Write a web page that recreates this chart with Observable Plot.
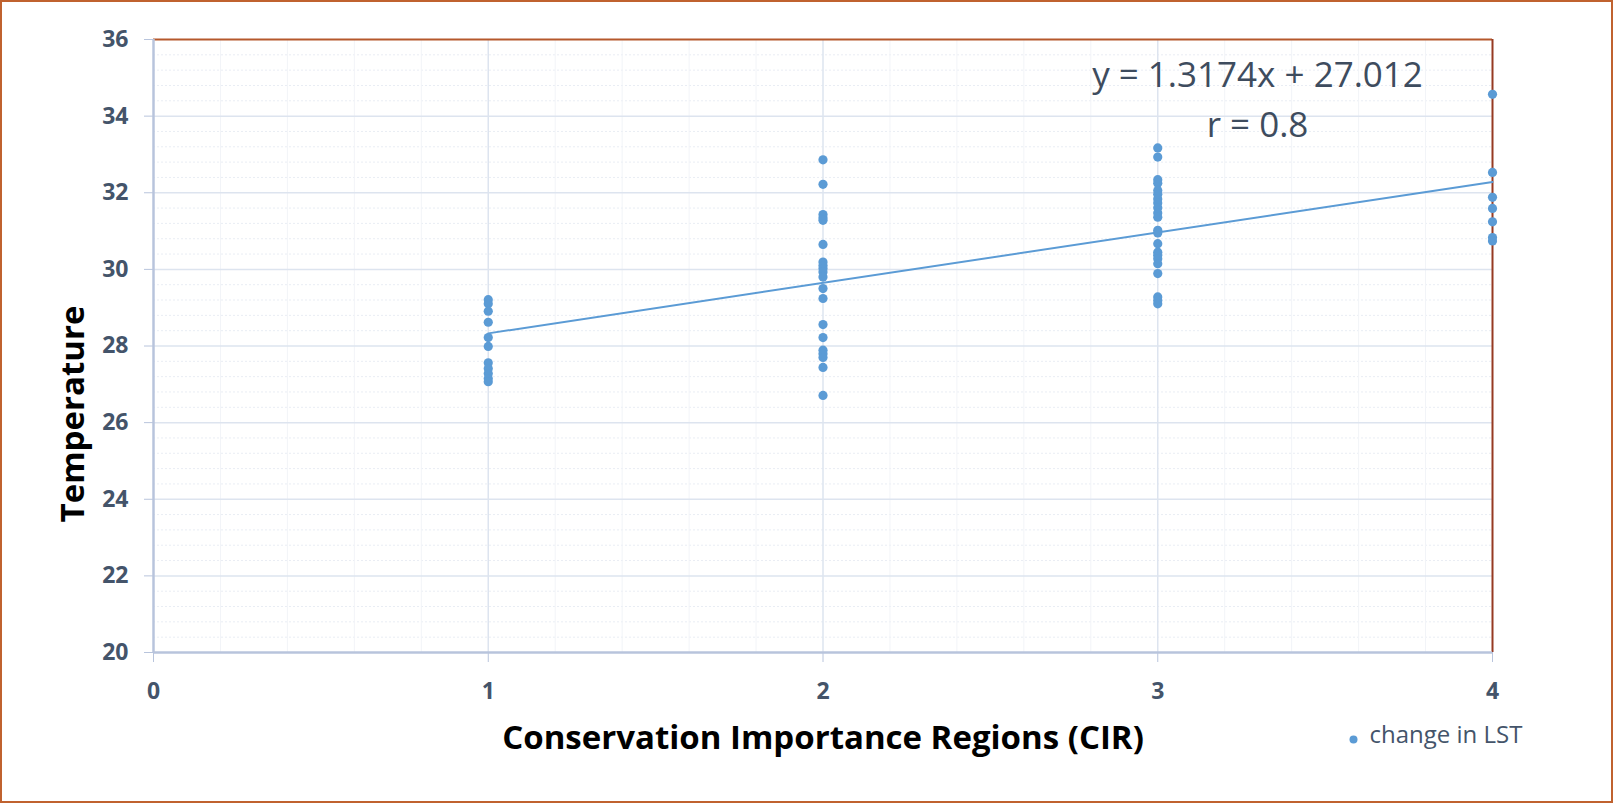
<!DOCTYPE html>
<html><head><meta charset="utf-8">
<script src="https://cdn.jsdelivr.net/npm/d3@7"></script>
<script src="https://cdn.jsdelivr.net/npm/@observablehq/plot@0.6"></script>
<style>
html,body{margin:0;padding:0;background:#fff;overflow:hidden}
#chart svg{display:block}
</style></head><body><div id="chart"></div>
<script>
// ---- data ----
const lstCIR1 = [29.21, 29.10, 28.91, 28.62, 28.22, 27.99, 27.56, 27.41, 27.28, 27.15, 27.07];
const lstCIR2 = [32.86, 32.22, 31.43, 31.35, 31.28, 30.65, 30.19, 30.10, 30.02, 29.93, 29.80, 29.50, 29.24, 28.56, 28.22, 27.89, 27.80, 27.70, 27.44, 26.71];
const lstCIR3 = [33.17, 32.93, 32.34, 32.25, 32.06, 31.96, 31.84, 31.73, 31.61, 31.47, 31.36, 31.02, 30.95, 30.67, 30.45, 30.37, 30.28, 30.15, 29.89, 29.28, 29.19, 29.10];
const lstCIR4 = [34.57, 32.53, 31.88, 31.59, 31.24, 30.83, 30.74];
const trendSlope = 1.3174;
const trendIntercept = 27.012;
const correlation = 0.8;
const xTicks = [0, 1, 2, 3, 4];
const yTicks = [20, 22, 24, 26, 28, 30, 32, 34, 36];
const seriesName = "change in LST";
const xTitle = "Conservation Importance Regions (CIR)";
const yTitle = "Temperature";

const groups = [[1, lstCIR1], [2, lstCIR2], [3, lstCIR3], [4, lstCIR4]];
const points = groups.flatMap(([cir, vals]) => vals.map(v => ({cir, lst: v})));
const xExt = d3.extent(points, d => d.cir);
const trend = xExt.map(x => ({cir: x, lst: trendSlope * x + trendIntercept}));
const minorY = d3.range(20, 36.001, 0.4).filter(v => Math.abs(v / 2 - Math.round(v / 2)) > 1e-6);
const minorX = d3.range(0, 4.001, 0.2).filter(v => Math.abs(v - Math.round(v)) > 1e-6);

const FONT = "'Open Sans', Lato, sans-serif";
const BLUE = "#5b9bd5";
const LABEL = "#44546a";
const AXIS = "#b8c4dc";

const chart = Plot.plot({
  width: 1613,
  height: 803,
  marginLeft: 153,
  marginRight: 121,
  marginTop: 39,
  marginBottom: 151,
  style: {fontFamily: FONT, background: "#fff", outline: "2px solid #c0622f", outlineOffset: "-2px"},
  x: {domain: [0, 4]},
  y: {domain: [20, 36]},
  marks: [
    Plot.ruleY(minorY, {stroke: "#e9edf4", strokeDasharray: "2,2", strokeWidth: 1}),
    Plot.ruleX(minorX, {stroke: "#f2f4f8", strokeWidth: 1}),
    Plot.ruleY(yTicks.filter(v => v > 20 && v < 36), {stroke: "#dde4ef", strokeWidth: 1.5}),
    Plot.ruleX(xTicks.filter(v => v > 0 && v < 4), {stroke: "#dde4ef", strokeWidth: 1.5}),
    Plot.axisY({ticks: yTicks, tickSize: 9, tickPadding: 16, stroke: AXIS, fill: LABEL, fontSize: 23, fontWeight: "bold", label: null, tickFormat: d3.format("d")}),
    Plot.axisX({ticks: xTicks, tickSize: 10, tickPadding: 20, stroke: AXIS, fill: LABEL, fontSize: 23, fontWeight: "bold", label: null, tickFormat: d3.format("d")}),
    Plot.ruleY([36], {stroke: "#b5582c", strokeWidth: 2}),
    Plot.ruleX([4], {stroke: "#963a22", strokeWidth: 2}),
    Plot.ruleX([0], {stroke: AXIS, strokeWidth: 2.5}),
    Plot.ruleY([20], {stroke: AXIS, strokeWidth: 2.5}),
    Plot.line(trend, {x: "cir", y: "lst", stroke: BLUE, strokeWidth: 2}),
    Plot.dot(points, {x: "cir", y: "lst", r: 4.6, fill: BLUE, stroke: "none"}),
    Plot.text([`y = ${trendSlope}x + ${trendIntercept}`], {frameAnchor: "top-right", dx: -235, dy: 23, text: d => d, textAnchor: "middle", fontSize: 35, fill: "#3e4c5e"}),
    Plot.text([`r = ${correlation}`], {frameAnchor: "top-right", dx: -235, dy: 73, text: d => d, textAnchor: "middle", fontSize: 35, fill: "#3e4c5e"}),
    Plot.text([xTitle], {frameAnchor: "bottom", dy: 96, text: d => d, textAnchor: "middle", fontSize: 33, fontWeight: "bold", fill: "#000"}),
    Plot.text([yTitle], {frameAnchor: "left", dx: -80, dy: 68, rotate: -90, text: d => d, textAnchor: "middle", fontSize: 33, fontWeight: "bold", fill: "#000"}),
    Plot.dot([seriesName], {frameAnchor: "bottom-right", dx: -139, dy: 87, r: 4, fill: BLUE, stroke: "none"}),
    Plot.text([seriesName], {frameAnchor: "bottom-right", dx: -123, dy: 90, text: d => d, textAnchor: "start", fontSize: 24, fill: LABEL})
  ]
});
document.getElementById("chart").append(chart);
</script></body></html>
